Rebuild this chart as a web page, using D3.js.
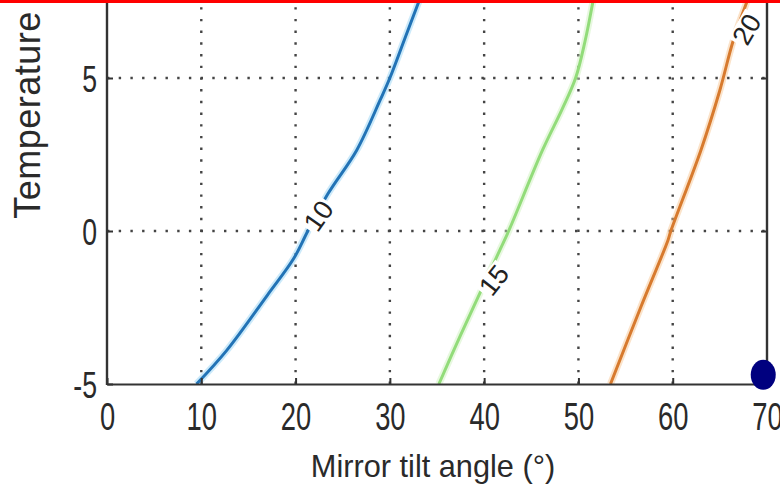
<!DOCTYPE html>
<html>
<head>
<meta charset="utf-8">
<script src="https://cdn.jsdelivr.net/npm/d3@7"></script>
<style>
  body { margin: 0; background: #fff; }
  svg { display: block; font-family: "Liberation Sans", Arial, sans-serif; }
</style>
</head>
<body>
<div class="chart"></div>
<script>
// contour levels and traced points (tilt angle, temperature)
var levels = [10, 15, 20];
var levelColors = ["#2273b6", "#92dc7a", "#d77a2e"];
var haloColors = ["#8fd0f5", "#c9f0b8", "#f7c08a"];

var contour10 = [[9.5, -5], [12.7, -3.9], [17, -2.1], [19.8, -0.9], [21.3, 0], [23.4, 1.2],
  [26.5, 2.65], [29.0, 4.3], [30.0, 5], [31.6, 6.3], [33.2, 7.6]];
var contour15 = [[35.2, -5], [37.5, -3.4], [39.6, -2.0], [41.7, -0.6], [42.6, 0], [46.2, 2.65],
  [48.3, 4.0], [49.7, 5], [50.7, 6.2], [51.6, 7.6]];
var contour20 = [[53.4, -5], [56.6, -2.5], [59.5, -0.3], [59.8, 0], [63.0, 2.65], [65.0, 4.6],
  [66.4, 6.2], [68.0, 7.6]];
var contours = [contour10, contour15, contour20];

// where the inline labels sit
var labelPos = [[22.4, 0.5], [41.0, -1.6], [67.8, 6.6]];
var labelAngle = [-55, -52, -60];

var xTicks = [0, 10, 20, 30, 40, 50, 60, 70];
var yTicks = [-5, 0, 5];
var marker = [69.6, -4.7];

var width = 780, height = 488;
var left = 107, right = 767, bottom = 384;

var svg = d3.select(".chart").append("svg")
  .attr("width", width)
  .attr("height", height);

var x = d3.scaleLinear().domain([0, 70]).range([left, right]);
var y = d3.scaleLinear().domain([-5, 5]).range([bottom, 78]);

svg.append("defs").append("clipPath").attr("id", "plot")
  .append("rect")
  .attr("x", left).attr("y", 3)
  .attr("width", right - left).attr("height", bottom - 3);

// dotted grid
var grid = svg.append("g").attr("stroke", "#444").attr("stroke-width", 2.4)
  .attr("stroke-dasharray", "2.4,9.3");
grid.selectAll(".vg").data(xTicks.filter(function(d) { return d > 0 && d < 70; }))
  .enter().append("line")
  .attr("x1", function(d) { return x(d); })
  .attr("x2", function(d) { return x(d); })
  .attr("y1", bottom).attr("y2", 3);
grid.selectAll(".hg").data(yTicks.filter(function(d) { return d > -5; }))
  .enter().append("line")
  .attr("x1", left).attr("x2", right)
  .attr("y1", function(d) { return y(d); })
  .attr("y2", function(d) { return y(d); });

// contour lines
var line = d3.line()
  .x(function(d) { return x(d[0]); })
  .y(function(d) { return y(d[1]); })
  .curve(d3.curveCatmullRom);

var lines = svg.append("g").attr("clip-path", "url(#plot)");
lines.selectAll(".halo").data(contours).enter().append("path")
  .attr("d", line)
  .attr("fill", "none")
  .attr("stroke", function(d, i) { return haloColors[i]; })
  .attr("stroke-opacity", 0.45)
  .attr("stroke-width", 7);
lines.selectAll(".contour").data(contours).enter().append("path")
  .attr("d", line)
  .attr("fill", "none")
  .attr("stroke", function(d, i) { return levelColors[i]; })
  .attr("stroke-width", 3);

// inline level labels
var labels = svg.append("g").selectAll("g").data(levels).enter().append("g")
  .attr("transform", function(d, i) {
    return "translate(" + x(labelPos[i][0]) + "," + y(labelPos[i][1]) + ") rotate(" + labelAngle[i] + ")";
  });
labels.append("rect")
  .attr("x", -17).attr("y", -11).attr("width", 34).attr("height", 22)
  .attr("fill", "#fff");
labels.append("text")
  .attr("text-anchor", "middle")
  .attr("dy", "0.36em")
  .attr("font-size", 27)
  .attr("fill", "#222")
  .text(function(d) { return d; });

// axes
var fmt = function(d) { return String(d); };
var xAxis = svg.append("g")
  .attr("transform", "translate(0," + bottom + ")")
  .call(d3.axisBottom(x).tickValues(xTicks).tickSizeInner(-6).tickSizeOuter(0).tickFormat(fmt));
xAxis.select(".domain").attr("stroke", "#333").attr("stroke-width", 2.2);
xAxis.selectAll(".tick line").attr("stroke", "#333").attr("stroke-width", 2);
xAxis.selectAll(".tick text")
  .attr("y", 46).attr("dy", 0)
  .attr("font-size", 38)
  .attr("font-family", "Liberation Sans, Arial, sans-serif")
  .attr("fill", "#2a2a2a")
  .attr("transform", "scale(0.72,1)");

var yAxis = svg.append("g")
  .attr("transform", "translate(" + left + ",0)")
  .call(d3.axisLeft(y).tickValues(yTicks).tickSizeInner(-6).tickSizeOuter(0).tickFormat(fmt));
yAxis.select(".domain").remove();
yAxis.selectAll(".tick line").attr("stroke", "#333").attr("stroke-width", 2);
yAxis.selectAll(".tick text")
  .attr("x", -10 / 0.72).attr("dy", "0.36em")
  .attr("font-size", 37)
  .attr("font-family", "Liberation Sans, Arial, sans-serif")
  .attr("fill", "#2a2a2a")
  .attr("transform", "scale(0.72,1)");

var yRight = svg.append("g")
  .attr("transform", "translate(" + right + ",0)")
  .call(d3.axisRight(y).tickValues(yTicks).tickSizeInner(-6).tickSizeOuter(0).tickFormat(""));
yRight.select(".domain").remove();
yRight.selectAll(".tick line").attr("stroke", "#333").attr("stroke-width", 2);

// frame sides running up past the crop
svg.append("line").attr("x1", left).attr("x2", left).attr("y1", 0).attr("y2", bottom + 1)
  .attr("stroke", "#333").attr("stroke-width", 2.4);
svg.append("line").attr("x1", right).attr("x2", right).attr("y1", 0).attr("y2", bottom + 1)
  .attr("stroke", "#333").attr("stroke-width", 2.4);

// axis titles
svg.append("text")
  .attr("transform", "translate(433,477) scale(0.96,1)")
  .attr("text-anchor", "middle")
  .attr("font-size", 32)
  .attr("fill", "#2a2a2a")
  .text("Mirror tilt angle (°)");

svg.append("text")
  .attr("transform", "translate(40,115) rotate(-90)")
  .attr("text-anchor", "middle")
  .attr("font-size", 36)
  .attr("letter-spacing", 0.5)
  .attr("fill", "#2a2a2a")
  .text("Temperature");

// red strip along the top edge and the marker dot
svg.append("rect").attr("x", 0).attr("y", 0).attr("width", width).attr("height", 3)
  .attr("fill", "#ff0000");

svg.append("ellipse")
  .attr("cx", x(marker[0])).attr("cy", y(marker[1]))
  .attr("rx", 12.5).attr("ry", 15)
  .attr("fill", "#00007f");
</script>
</body>
</html>
